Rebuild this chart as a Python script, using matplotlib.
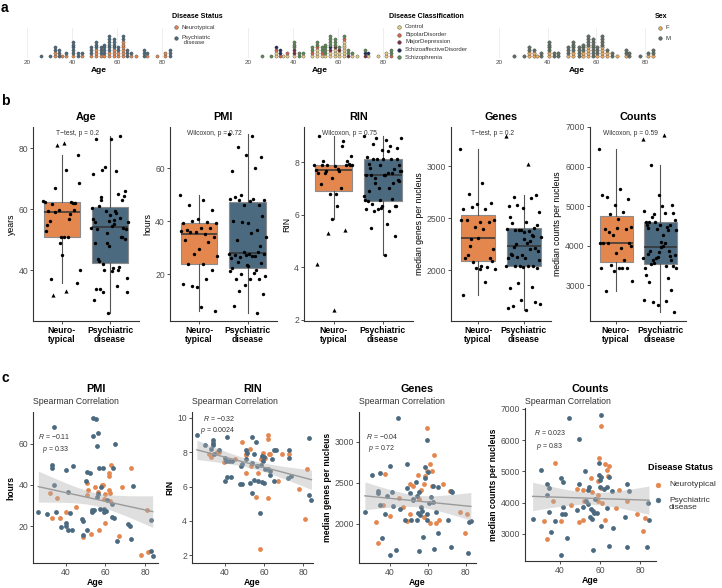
import numpy as np
import matplotlib
matplotlib.use('Agg')
import matplotlib.pyplot as plt
from matplotlib.lines import Line2D

plt.rcParams['font.family'] = ['Liberation Sans', 'DejaVu Sans']
plt.rcParams['mathtext.fontset'] = 'custom'
plt.rcParams['mathtext.it'] = 'Liberation Sans:italic'
plt.rcParams['axes.unicode_minus'] = True

W, H = 722, 588
NT_COL = '#E4874F'
PD_COL = '#4B6A80'
TXT = '#333333'
TICK = '#4D4D4D'

# ---- donor data ----
# age / PMI per donor (neurotypical, psychiatric)
nt_age = [62.8, 72.9, 61.8, 61.9, 50.8, 54.8, 58.4, 58.9, 68.6, 51.0, 56.0, 61.9, 59.7, 62.3, 50.8,
          31.9, 35.6, 44.9, 59.2, 62.3, 80.9, 40.0, 33.1, 37.0, 59.7, 48.8, 52.8, 56.8, 66.8, 77.8, 81.6]
nt_pmi = [49.9, 48.0, 45.9, 44.2, 40.9, 39.1, 39.8, 40.2, 39.1, 37.4, 36.7, 37.4, 35.8, 36.2, 35.1,
          35.9, 33.8, 29.5, 33.0, 32.2, 27.7, 26.9, 23.9, 23.9, 21.4, 15.0, 16.1, 18.1, 15.3, 6.2, 7.6]
pd_age = [53.8, 55.0, 33.9, 53.8, 56.0, 55.9, 64.9, 32.8, 32.8, 39.8, 43.7, 50.8, 52.1, 56.7, 58.8,
          63.9, 50.1, 57.9, 33.9, 41.0, 73.7, 55.9, 56.4, 60.9, 63.1, 26.0, 30.2, 34.9, 42.0, 53.3,
          54.3, 53.3, 57.2, 59.2, 60.2, 59.2, 63.1, 64.3, 47.9, 48.8, 40.0, 40.0, 37.3, 40.8, 42.9,
          50.8, 48.8, 71.5, 72.4, 72.7, 65.9, 83.0, 82.9, 83.9]
pd_pmi = [72.7, 72.1, 68.0, 64.0, 65.0, 59.0, 60.0, 49.9, 48.0, 47.5, 49.0, 46.2, 45.9, 48.3, 48.4,
          48.0, 41.8, 39.1, 39.9, 36.7, 39.6, 34.0, 35.4, 32.9, 30.6, 27.1, 26.1, 26.9, 26.4, 27.7,
          27.7, 27.1, 28.2, 28.3, 27.4, 26.9, 24.5, 24.0, 23.4, 22.3, 21.4, 20.0, 19.4, 18.1, 18.1,
          18.1, 15.7, 21.0, 20.2, 13.7, 12.6, 22.9, 8.1, 5.4]
nt_sex = list('FMMFMFMMFMFMMFMMFMMFMMFMMFMFMMF')
pd_sex = list('MMFMMFMMFMMFMMMFMMMFMMFMMMMFMMFMMMFMMFMMMFMMMFMMMFMMFM')
# S schizophrenia, B bipolar, M major depression, A schizoaffective
pd_dx = list('SSASSMSABSSBSSMSSSAMASASBSSBSSSBSSMSSMSSSMBSSSBSMASSBS')

# RIN
rin_nt_age = [31.6, 32.7, 36.0, 36.9, 39.5, 45.0, 48.9, 50.9, 52.8, 50.9, 53.2, 56.1, 56.9, 59.6, 60.3,
              58.6, 59.3, 58.0, 62.1, 62.1, 62.1, 62.9, 67.2, 69.2, 72.8, 77.9, 81.2, 82.1, 59.0, 62.5, 51.0]
rin_nt = [7.89, 7.73, 8.02, 8.02, 7.41, 7.6, 8.6, 7.89, 8.21, 6.8, 7.18, 5.41, 6.8, 7.7, 7.66,
          7.6, 7.94, 2.36, 8.99, 8.78, 5.31, 7.89, 6.33, 7.89, 7.89, 5.83, 4.11, 7.03, 7.65, 7.9, 7.85]
rin_pd_age = [25.6, 29.6, 33.8, 33.8, 33.8, 33.0, 36.9, 41.0, 39.8, 41.9, 43.7, 39.8, 41.0, 42.9, 47.9,
              48.7, 48.7, 50.9, 51.4, 50.9, 52.7, 53.8, 53.8, 54.9, 56.9, 59.0, 60.0, 56.1, 56.6, 58.3,
              57.8, 58.8, 60.0, 62.1, 62.9, 64.1, 65.1, 66.3, 65.1, 72.3, 74.0, 73.0, 73.0, 83.1, 83.1,
              84.3, 55.0, 59.5, 60.5, 54.0, 34.5, 40.5, 63.0, 48.0]
rin_pd = [9.0, 8.4, 8.7, 8.55, 8.45, 8.2, 8.13, 8.9, 7.64, 7.5, 7.5, 6.33, 6.55, 6.55, 6.13,
          6.13, 7.31, 8.13, 7.94, 7.6, 6.23, 8.9, 5.64, 6.4, 6.33, 6.27, 6.23, 8.6, 7.22, 7.26,
          4.46, 7.79, 7.73, 7.01, 6.7, 7.6, 8.13, 8.13, 6.33, 6.51, 6.59, 8.13, 7.64, 8.84, 5.5,
          5.2, 7.9, 7.5, 7.0, 7.4, 7.9, 7.5, 6.9, 7.2]

# median genes per nucleus
genes_nt_age = [59.3, 63.2, 61.2, 59.3, 62.3, 54.6, 58.4, 37.4, 50.5, 52.3, 58.1, 62.3, 56.2, 67.7, 71.6,
                36.3, 40.2, 44.9, 50.5, 48.8, 58.1, 61.1, 66.0, 76.8, 80.4, 32.5, 33.5, 79.5, 55.5, 47.0, 64.0]
genes_nt = [3165, 2835, 2731, 2642, 2635, 2590, 2582, 2606, 2482, 2461, 2482, 2461, 2413, 2482, 2394,
            2232, 2088, 2310, 2120, 2032, 2080, 2008, 2040, 2141, 2120, 2020, 1759, 1888, 2300, 2200, 2010]
genes_pd_age = [44.0, 59.3, 40.2, 48.8, 30.7, 34.6, 58.4, 59.8, 58.4, 62.8, 65.1, 72.1, 72.8, 33.5, 33.5,
                41.2, 48.8, 50.5, 53.7, 54.4, 55.4, 61.6, 62.8, 34.7, 41.8, 26.8, 37.4, 52.3, 54.9, 55.8,
                59.6, 64.1, 47.9, 51.1, 54.0, 59.3, 70.7, 81.7, 82.6, 35.6, 57.5, 65.1, 43.0, 40.0, 55.4,
                63.2, 71.9, 81.2, 56.5, 60.5, 45.5, 52.0, 57.0, 38.5]
genes_pd = [3286, 3024, 2703, 2723, 2594, 2614, 2695, 2623, 2554, 2461, 2449, 2401, 2389, 2394, 2373,
            2382, 2430, 2370, 2510, 2341, 2382, 2322, 2261, 2220, 2213, 2141, 2112, 2281, 2129, 2100,
            2120, 2141, 2040, 2040, 2040, 2040, 2040, 2020, 2028, 1828, 1840, 1880, 1671, 1611, 1659,
            1690, 1711, 1638, 2200, 2250, 2180, 2300, 2150, 2330]

# median counts per nucleus
counts_nt_age = [60.5, 59.7, 62.5, 64.7, 63.7, 37.5, 64.2, 55.5, 60.3, 58.8, 51.3, 69.5, 59.2, 36.3, 45.3,
                 52.0, 58.8, 67.8, 73.7, 78.7, 82.5, 81.7, 32.2, 33.3, 40.3, 49.5, 51.3, 62.5, 56.0, 61.0, 48.5]
counts_nt = [6451, 5441, 5226, 5183, 5032, 5269, 4839, 4796, 4474, 4677, 4409, 4409, 4258, 4064, 3935,
             4064, 4064, 3817, 4064, 3635, 3506, 3097, 3419, 2849, 3419, 3365, 3441, 3441, 4350, 3980, 4450]
counts_pd_age = [44.7, 60.5, 49.7, 30.3, 59.5, 33.7, 34.5, 40.3, 41.3, 52.5, 49.5, 54.7, 54.2, 59.5, 60.5,
                 60.0, 64.7, 63.7, 60.0, 65.8, 73.3, 74.5, 33.3, 41.3, 40.8, 34.7, 37.5, 26.3, 42.7, 48.3,
                 54.2, 55.3, 56.3, 57.2, 58.7, 53.0, 55.0, 55.8, 63.7, 60.5, 66.3, 72.7, 84.5, 83.8, 35.5,
                 43.7, 56.7, 64.7, 73.7, 83.7, 40.5, 57.5, 62.0, 51.5]
counts_pd = [6699, 6806, 6032, 5032, 5268, 4603, 4474, 4797, 4655, 5000, 4603, 4516, 4409, 4871, 4817,
             4710, 4817, 4516, 4516, 4387, 4603, 4387, 4258, 3871, 3635, 3710, 3419, 3484, 3635, 3764,
             3957, 3796, 3742, 3677, 3677, 4064, 3527, 3473, 3829, 3248, 3172, 3548, 3441, 3989, 3074,
             2862, 2484, 2613, 2591, 2581, 2312, 4100, 4450, 3850]

DX_NAMES = ['Control', 'BipolarDisorder', 'MajorDepression', 'SchizoaffectiveDisorder', 'Schizophrenia']
DX_CODES = [None, 'B', 'M', 'A', 'S']
DX_COLS = ['#E9CB84', '#D8634B', '#7A2E40', '#1F2D5C', '#5E8A55']
SEX_NAMES = ['F', 'M']
SEX_COLS = ['#E8A75C', '#5F6E63']


def px_axes(fig, left, top, right, bottom):
    return fig.add_axes([left / W, 1 - bottom / H, (right - left) / W, (bottom - top) / H])


def ftext(fig, x, y, s, **kw):
    return fig.text(x / W, 1 - y / H, s, **kw)


def key(fig, x, y, col, label, size, ms, tx=6, edge='#3A3A3A'):
    fig.add_artist(Line2D([x / W], [1 - y / H], transform=fig.transFigure, marker='o', ls='',
                          ms=ms, mfc=col, mec=edge, mew=0.3))
    lines = label.count('\n')
    ftext(fig, x + tx, y - 3.4 if lines else y, label, fontsize=size, va='top' if lines else 'center',
          ha='left', color=TXT, linespacing=1.1)


def density_bins(values, bw):
    # dot-density binning: each bin starts at the first unbinned value
    v = sorted(values)
    bins = []
    i = 0
    while i < len(v):
        j = i
        while j < len(v) and v[j] < v[i] + bw:
            j += 1
        bins.append((v[i], v[i] + bw, (v[i] + v[j - 1]) / 2))
        i = j
    return bins


def dot_panel(fig, box, xlim, layers, bw=1.35, dy_px=2.85, d_px=3.2):
    left, top, right, bottom = box
    ax = px_axes(fig, *box)
    ax.set_xlim(*xlim)
    ax.set_ylim(0, (bottom - top) / dy_px)
    bins = density_bins([a for ages, _ in layers for a in ages], bw)
    stack = {}
    for ages, col in layers:
        xs, ys = [], []
        for a in sorted(ages):
            k = next(i for i, (lo, hi, c) in enumerate(bins) if lo <= a < hi)
            h = stack.get(k, 0)
            stack[k] = h + 1
            xs.append(bins[k][2])
            ys.append(h + 0.55)
        if xs:
            ax.scatter(xs, ys, s=(d_px * 0.72) ** 2, c=col, edgecolors='#3F3F3F',
                       linewidths=0.25, zorder=3, clip_on=False)
    ax.set_xticks([20, 40, 60, 80])
    ax.set_yticks([])
    ax.grid(axis='x', color='#EBEBEB', lw=0.6, zorder=0)
    ax.tick_params(axis='x', length=0, labelsize=4.6, labelcolor=TICK, pad=2)
    for s in ax.spines.values():
        s.set_visible(False)
    ax.set_xlabel('Age', fontsize=6, fontweight='bold', labelpad=1.5, color='black')
    return ax


def jitter(n):
    return ((np.arange(n) * 0.618034) % 1 - 0.5) * 0.78


def style_axes(ax, tsize):
    for s in ['top', 'right']:
        ax.spines[s].set_visible(False)
    for s in ['left', 'bottom']:
        ax.spines[s].set_color('#333333')
        ax.spines[s].set_linewidth(0.8)
    ax.tick_params(length=2, width=0.6, color='#333333', labelsize=tsize, labelcolor=TICK, pad=1.5)


def box_panel(fig, box, nt, pd, title, ylabel, ylim, yticks, test):
    left, top, right, bottom = box
    ax = px_axes(fig, *box)
    bp = ax.boxplot([nt, pd], positions=[1, 2], widths=0.75, patch_artist=True,
                    showfliers=False, showcaps=False, whis=1.5,
                    medianprops=dict(color='#333333', lw=1.1),
                    whiskerprops=dict(color='#555555', lw=0.8),
                    boxprops=dict(edgecolor='#8C8C8C', lw=0.8))
    for patch, col in zip(bp['boxes'], [NT_COL, PD_COL]):
        patch.set_facecolor(col)
    for pos, vals in [(1, nt), (2, pd)]:
        vals = np.asarray(vals, float)
        q1, q3 = np.percentile(vals, [25, 75])
        lo, hi = q1 - 1.5 * (q3 - q1), q3 + 1.5 * (q3 - q1)
        jit = jitter(len(vals))
        out = (vals < lo) | (vals > hi)
        ax.scatter(pos + jit[~out], vals[~out], s=6, c='black', lw=0, zorder=3)
        ax.scatter(pos + jit[out], vals[out], s=9, c='black', marker='^', lw=0, zorder=3)
    ax.set_xlim(0.4, 2.6)
    ax.set_ylim(*ylim)
    ax.set_yticks(yticks)
    ax.set_xticks([1, 2])
    ax.set_xticklabels(['Neuro-\ntypical', 'Psychiatric\ndisease'], fontweight='bold',
                       fontsize=6.2, color='black', linespacing=1.0)
    style_axes(ax, 6.2)
    ax.tick_params(axis='x', labelcolor='black')
    ax.set_ylabel(ylabel, fontsize=6.3, color='black', labelpad=2)
    ftext(fig, (left + right) / 2, 117, title, fontsize=7.8, fontweight='bold', ha='center', va='center')
    ax.text(1.32, 0.969, test, transform=ax.get_xaxis_transform(), fontsize=4.8, ha='center',
            va='center', color=TXT)
    return ax


def scatter_panel(fig, box, nt_x, nt_y, pd_x, pd_y, title, ylabel, xlim, ylim, yticks,
                  r_txt, p_txt, r_xy, p_xy):
    left, top, right, bottom = box
    ax = px_axes(fig, *box)
    x = np.r_[nt_x, pd_x].astype(float)
    y = np.r_[nt_y, pd_y].astype(float)
    ax.scatter(nt_x, nt_y, s=12, c=NT_COL, lw=0, zorder=2)
    ax.scatter(pd_x, pd_y, s=12, c=PD_COL, lw=0, zorder=2)
    b1, b0 = np.polyfit(x, y, 1)
    xs = np.linspace(x.min(), x.max(), 80)
    yhat = b0 + b1 * xs
    n = len(x)
    s = np.sqrt(np.sum((y - (b0 + b1 * x)) ** 2) / (n - 2))
    se = s * np.sqrt(1 / n + (xs - x.mean()) ** 2 / np.sum((x - x.mean()) ** 2))
    ax.fill_between(xs, yhat - 1.99 * se, yhat + 1.99 * se, color='#B0B0B0', alpha=0.4, lw=0, zorder=3)
    ax.plot(xs, yhat, color='#9A9A9A', lw=1.0, zorder=4)
    ax.set_xlim(*xlim)
    ax.set_ylim(*ylim)
    ax.set_xticks([40, 60, 80])
    ax.set_yticks(yticks)
    style_axes(ax, 6.2)
    ax.set_xlabel('Age', fontsize=6.3, fontweight='bold', labelpad=0.5)
    ax.set_ylabel(ylabel, fontsize=6.2, fontweight='bold', labelpad=2)
    ftext(fig, (left + right) / 2, 389, title, fontsize=7.8, fontweight='bold', ha='center', va='center')
    ftext(fig, left, 402, 'Spearman Correlation', fontsize=6.3, ha='left', va='center', color=TXT)
    ax.text(*r_xy, r_txt, transform=ax.transAxes, fontsize=5, ha='left', va='center', color=TXT)
    ax.text(*p_xy, p_txt, transform=ax.transAxes, fontsize=5, ha='left', va='center', color=TXT)
    return ax


fig = plt.figure(figsize=(W / 100, H / 100), dpi=100)

ftext(fig, 1, 1, 'a', fontsize=10, fontweight='bold', va='top', ha='left')
ftext(fig, 1, 94, 'b', fontsize=10, fontweight='bold', va='top', ha='left')
ftext(fig, 1, 371, 'c', fontsize=10, fontweight='bold', va='top', ha='left')

# ---------------- panel a ----------------
xl = (17, 87)
dot_panel(fig, (20.25, 28, 177.75, 57.5), xl, [(nt_age, NT_COL), (pd_age, PD_COL)])
ftext(fig, 172, 16, 'Disease Status', fontsize=5.1, fontweight='bold', va='center')
key(fig, 176, 27, NT_COL, 'Neurotypical', 4.3, 2.6)
key(fig, 176, 38, PD_COL, 'Psychiatric\n disease', 4.3, 2.6)

dx_layers = [(nt_age, DX_COLS[0])]
for code, col in zip(DX_CODES[1:], DX_COLS[1:]):
    dx_layers.append(([a for a, d in zip(pd_age, pd_dx) if d == code], col))
dot_panel(fig, (241.25, 28, 398.75, 57.5), xl, dx_layers)
ftext(fig, 389, 16, 'Disease Classification', fontsize=5.1, fontweight='bold', va='center')
for i, (nm, col) in enumerate(zip(DX_NAMES, DX_COLS)):
    key(fig, 399, 27 + i * 7.5, col, nm, 4.3, 2.6)

all_age = nt_age + pd_age
all_sex = nt_sex + pd_sex
sex_layers = [([a for a, s in zip(all_age, all_sex) if s == nm], col) for nm, col in zip(SEX_NAMES, SEX_COLS)]
dot_panel(fig, (491.7, 28, 662.0, 57.5), xl, sex_layers, d_px=3.4)
ftext(fig, 655, 16, 'Sex', fontsize=5.1, fontweight='bold', va='center')
key(fig, 660, 27.5, SEX_COLS[0], 'F', 4.3, 2.6)
key(fig, 660, 38, SEX_COLS[1], 'M', 4.3, 2.6)

# ---------------- panel b ----------------
box_panel(fig, (33.2, 127, 138.8, 321), nt_age, pd_age, 'Age', 'years',
          (23.3, 86.9), [40, 60, 80], 'T\u2212test, p = 0.2')
box_panel(fig, (169.9, 127, 276.6, 321), nt_pmi, pd_pmi, 'PMI', 'hours',
          (2.26, 75.5), [20, 40, 60], 'Wilcoxon, p = 0.72')
box_panel(fig, (303.8, 127, 412.7, 321), rin_nt, rin_pd, 'RIN', 'RIN',
          (1.96, 9.33), [2, 4, 6, 8], 'Wilcoxon, p = 0.75')
box_panel(fig, (450.7, 127, 551.0, 321), genes_nt, genes_pd, 'Genes', 'median genes per nucleus',
          (1510, 3375), [2000, 2500, 3000], 'T\u2212test, p = 0.2')
box_panel(fig, (589.6, 127, 686.4, 321), counts_nt, counts_pd, 'Counts', 'median counts per nucleus',
          (2089, 7000), [3000, 4000, 5000, 6000, 7000], 'Wilcoxon, p = 0.59')

# ---------------- panel c ----------------
scatter_panel(fig, (33, 412, 158, 563), nt_age, nt_pmi, pd_age, pd_pmi, 'PMI', 'hours',
              (23.3, 86.6), (2.17, 75.4), [20, 40, 60],
              '$R$ = \u22120.11', '$p$ = 0.33', (0.04, 0.835), (0.07, 0.75))
scatter_panel(fig, (192, 412, 313, 563), rin_nt_age, rin_nt, rin_pd_age, rin_pd, 'RIN', 'RIN',
              (23.1, 85.1), (1.54, 10.35), [2, 4, 6, 8, 10],
              '$R$ = \u22120.32', '$p$ = 0.0024', (0.09, 0.96), (0.065, 0.876))
scatter_panel(fig, (359, 412, 476, 563), genes_nt_age, genes_nt, genes_pd_age, genes_pd, 'Genes',
              'median genes per nucleus', (23.7, 85.3), (1518, 3361), [2000, 2500, 3000],
              '$R$ = \u22120.04', '$p$ = 0.72', (0.06, 0.84), (0.08, 0.76))
scatter_panel(fig, (525, 408, 656, 561), counts_nt_age, counts_nt, counts_pd_age, counts_pd, 'Counts',
              'median counts per nucleus', (22.5, 88), (2129, 7032), [3000, 4000, 5000, 6000, 7000],
              '$R$ = 0.023', '$p$ = 0.83', (0.07, 0.84), (0.085, 0.75))

ftext(fig, 648, 468, 'Disease Status', fontsize=6.6, fontweight='bold', va='center')
key(fig, 658, 485, NT_COL, 'Neurotypical', 6.0, 3.5, tx=11, edge=NT_COL)
key(fig, 658, 500, PD_COL, 'Psychiatric\ndisease', 6.0, 3.5, tx=11, edge=PD_COL)

fig.savefig('out.png', dpi=100)
